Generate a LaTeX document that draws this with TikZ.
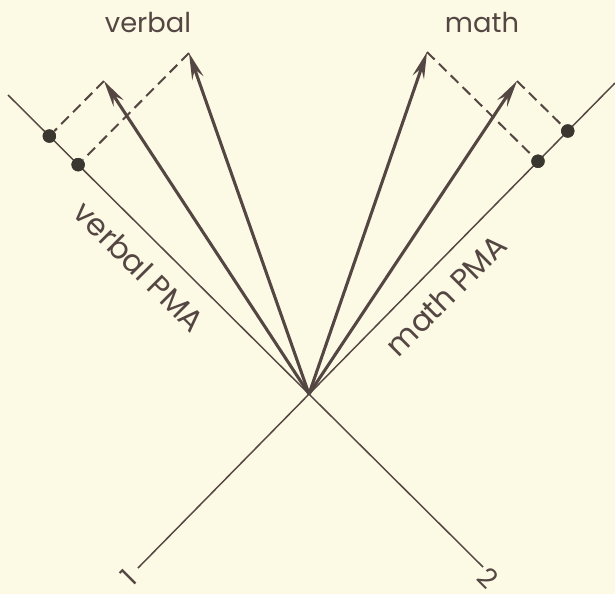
\documentclass[tikz,border=0pt]{standalone}
\usepackage{fontspec}
\setsansfont{Poppins}
\usepackage{tikz}
\usetikzlibrary{arrows.meta,calc}
\definecolor{paper}{RGB}{252,249,228}
\definecolor{ink}{RGB}{84,70,66}
\definecolor{dotink}{RGB}{58,54,48}

\begin{document}
\begin{tikzpicture}[
  x=0.75pt,y=-0.75pt,
  font=\fontsize{20.5}{24}\selectfont\sffamily,
  axis/.style={draw=ink,line width=1.1pt},
  vec/.style={draw=ink,line width=2.3pt,
              -{Stealth[length=20pt,width=9pt,inset=7pt]}},
  proj/.style={draw=ink,line width=1.5pt,dash pattern=on 8pt off 4.5pt},
  pmark/.style={circle,fill=dotink,inner sep=0pt,minimum size=10pt},
  lbl/.style={text=ink,inner sep=0pt},
  axlbl/.style={lbl,font=\fontsize{23}{26}\selectfont\sffamily},
]
  \fill[paper] (0,0) rectangle (615,594);
  \useasboundingbox (0,0) rectangle (615,594);

  % test axes 1 and 2, crossing at the origin
  \coordinate (o) at (309,394);
  \coordinate (end1) at (138,568);
  \coordinate (top1) at (615,83);
  \coordinate (end2) at (483,567);
  \coordinate (top2) at (8,95);

  % tips of the score vectors
  \coordinate (v1) at (104,81);
  \coordinate (v2) at (189,53);
  \coordinate (m1) at (427,52);
  \coordinate (m2) at (517,81);

  % projections on the PMA axes
  \node[pmark] (pv1) at ($(o)!(v1)!(top2)$) {};
  \node[pmark] (pv2) at ($(o)!(v2)!(top2)$) {};
  \node[pmark] (pm1) at ($(o)!(m1)!(top1)$) {};
  \node[pmark] (pm2) at ($(o)!(m2)!(top1)$) {};

  \draw[proj] (v1) -- (pv1);
  \draw[proj] (v2) -- (pv2);
  \draw[proj] (m1) -- (pm1);
  \draw[proj] (m2) -- (pm2);

  \draw[axis] (end1) -- (top1);
  \draw[axis] (end2) -- (top2);

  \draw[vec] (o) -- (v1);
  \draw[vec] (o) -- (v2);
  \draw[vec] (o) -- (m1);
  \draw[vec] (o) -- (m2);

  \node[pmark] at (pv1) {};
  \node[pmark] at (pv2) {};
  \node[pmark] at (pm1) {};
  \node[pmark] at (pm2) {};

  % labels
  \node[lbl] (verbal) at (148,23) {verbal};
  \node[lbl] (math) at (482,23) {math};
  \node[axlbl,rotate=-45] (vpma) at (139.5,266.5) {verbal PMA};
  \node[axlbl,rotate=45] (mpma) at (446,295) {math PMA};
  \node[lbl,rotate=45] (one) at (129,577) {1};
  \node[lbl,rotate=-45] (two) at (488,578) {2};
\end{tikzpicture}
\end{document}
